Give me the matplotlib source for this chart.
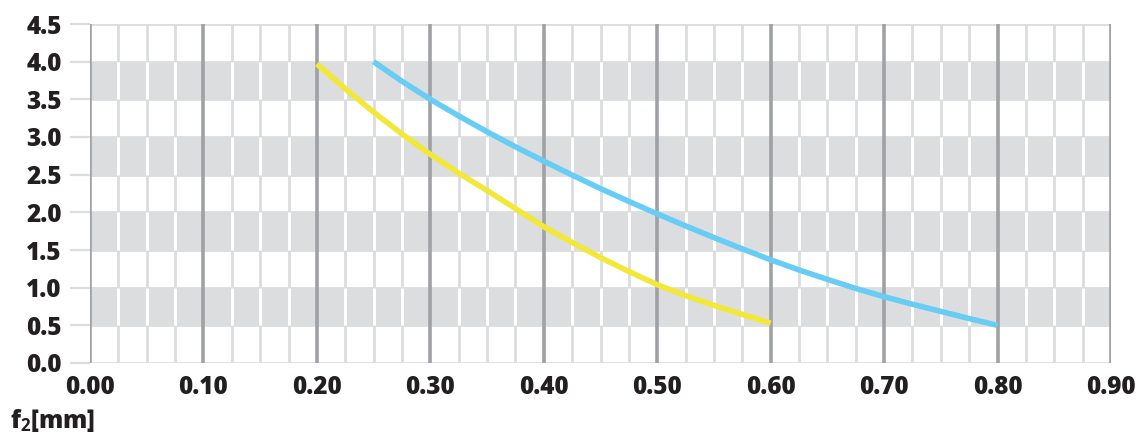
import matplotlib
matplotlib.use("Agg")
import matplotlib.pyplot as plt
import numpy as np

# ---- data ----
yellow_x = [0.200, 0.225, 0.250, 0.275, 0.300, 0.325, 0.350, 0.375, 0.400, 0.425,
            0.450, 0.475, 0.500, 0.525, 0.550, 0.575, 0.600]
yellow_y = [3.97, 3.64, 3.33, 3.04, 2.77, 2.52, 2.29, 2.05, 1.81, 1.60,
            1.40, 1.215, 1.04, 0.895, 0.765, 0.645, 0.53]
blue_x = [0.250, 0.275, 0.300, 0.325, 0.350, 0.375, 0.400, 0.425, 0.450, 0.475,
          0.500, 0.525, 0.550, 0.575, 0.600, 0.625, 0.650, 0.675, 0.700, 0.725,
          0.750, 0.775, 0.800]
blue_y = [4.00, 3.74, 3.50, 3.28, 3.07, 2.87, 2.68, 2.495, 2.315, 2.145,
          1.98, 1.82, 1.665, 1.515, 1.37, 1.235, 1.11, 0.99, 0.88, 0.78,
          0.685, 0.59, 0.50]
x_ticks = [0.0, 0.1, 0.2, 0.3, 0.4, 0.5, 0.6, 0.7, 0.8, 0.9]
x_tick_labels = ["0.00", "0.10", "0.20", "0.30", "0.40", "0.50", "0.60", "0.70", "0.80", "0.90"]
y_ticks = [0.0, 0.5, 1.0, 1.5, 2.0, 2.5, 3.0, 3.5, 4.0, 4.5]
y_tick_labels = ["0.0", "0.5", "1.0", "1.5", "2.0", "2.5", "3.0", "3.5", "4.0", "4.5"]
band_lows = [0.5, 1.5, 2.5, 3.5]
minor_x = [0.025 * i for i in range(37) if i % 4 != 0]

# ---- style ----
plt.rcParams['font.family'] = ['Open Sans', 'DejaVu Sans']
plt.rcParams['mathtext.fontset'] = 'custom'
plt.rcParams['mathtext.rm'] = 'Open Sans:bold'
plt.rcParams['mathtext.bf'] = 'Open Sans:bold'
plt.rcParams['mathtext.it'] = 'Open Sans:bold'
TXT = '#231f20'
GRAY_BAND = '#dcdddf'
MINOR = '#dcdddf'
MAJOR = '#a0a1a5'
FW = 800
W, H = 1138, 443
fig = plt.figure(figsize=(W / 100, H / 100), dpi=100)
ax = fig.add_axes([90 / W, (H - 363) / H, (1111 - 90) / W, (363 - 24) / H])
ax.set_xlim(0, 0.9)
ax.set_ylim(0, 4.5)

# bands
for lo in band_lows:
    ax.axhspan(lo, lo + 0.5, color=GRAY_BAND, lw=0, zorder=0)

# horizontal grid lines
for yv in y_ticks:
    ax.axhline(yv, color=MINOR, lw=2, zorder=0.5)

# minor vertical lines: light gray on white rows, white on gray rows
ax.vlines(minor_x, 0, 4.5, colors=MINOR, lw=2, zorder=1)
for lo in band_lows:
    ax.vlines(minor_x, lo, lo + 0.5, colors='white', lw=2.2, zorder=1.1)

# major vertical lines
ax.vlines(x_ticks, 0, 4.5, colors=MAJOR, lw=2.6, zorder=2)

# curves
ax.plot(yellow_x, yellow_y, color='#f2e83a', lw=4, solid_capstyle='butt',
        solid_joinstyle='round', zorder=3)
ax.plot(blue_x, blue_y, color='#67cdf5', lw=4, solid_capstyle='butt',
        solid_joinstyle='round', zorder=3)

for s in ax.spines.values():
    s.set_visible(False)
ax.set_xticks(x_ticks)
ax.set_xticklabels(x_tick_labels)
ax.set_yticks(y_ticks)
ax.set_yticklabels(y_tick_labels)
ax.tick_params(axis='x', length=0, pad=9, labelsize=17.5, labelcolor=TXT)
ax.tick_params(axis='y', length=14.5, width=1.6, color=MINOR, pad=6, labelsize=17.5, labelcolor=TXT)
for lab in ax.get_xticklabels() + ax.get_yticklabels():
    lab.set_fontweight(FW)

fig.text(10 / W, (H - 428) / H, r'f$_2$[mm]', fontsize=17.5, fontweight=FW, color=TXT,
         ha='left', va='baseline')

fig.savefig('out.png', dpi=100)
